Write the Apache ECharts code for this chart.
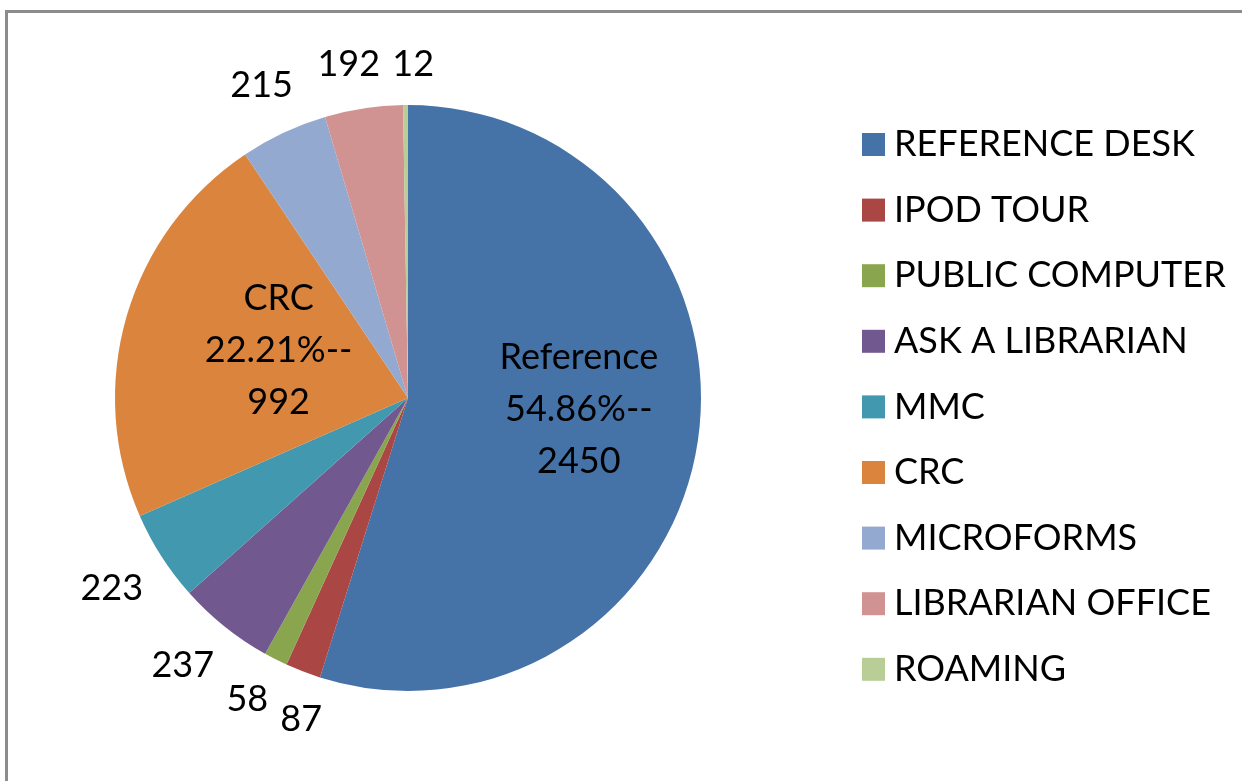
<!DOCTYPE html>
<html>
<head>
<meta charset="utf-8">
<script src="https://cdn.jsdelivr.net/npm/echarts@6/dist/echarts.min.js"></script>
<style>
  html, body { margin: 0; padding: 0; background: #fff; }
  #main { width: 1242px; height: 781px; }
</style>
</head>
<body>
<div id="main"></div>
<script>
// categories (legend order, clockwise from 12 o'clock)
const categories = [
  'REFERENCE DESK', 'IPOD TOUR', 'PUBLIC COMPUTER', 'ASK A LIBRARIAN', 'MMC',
  'CRC', 'MICROFORMS', 'LIBRARIAN OFFICE', 'ROAMING'
];
// visit counts
const counts = [2450, 87, 58, 237, 223, 992, 215, 192, 12];
// short names used in the two big slices' inner labels
const innerNames = ['Reference', '', '', '', '', 'CRC', '', '', ''];

const colors = [
  '#4572a7', '#aa4643', '#89a54e', '#71588f', '#4198af',
  '#db843d', '#93a9cf', '#d19392', '#b9cd96'
];

const font = 'Lato, "Noto Sans", sans-serif';
const fontSize = 36;

const chart = echarts.init(document.getElementById('main'));

// inner label placement: fraction of radius + small vertical nudge
const innerPos = { Reference: { k: 0.59, dy: -15 }, CRC: { k: 0.46, dy: -10 } };

const data = categories.map((name, i) => {
  const item = { name, value: counts[i] };
  if (innerNames[i]) {
    item.label = {
      position: 'inside',
      formatter: p => innerNames[i] + '\n' + p.percent.toFixed(2) + '%--\n' + p.value,
      lineHeight: 52
    };
  }
  return item;
});

// work out all label spots once: outside labels sit just clear of the rim,
// neighbours that collide get pushed apart around the circle
let spots = null;
function computeSpots() {
  const d = chart.getModel().getSeriesByIndex(0).getData();
  const ctx = document.createElement('canvas').getContext('2d');
  ctx.font = fontSize + 'px ' + font;
  const out = [];
  const res = [];
  for (let i = 0; i < counts.length; i++) {
    const lay = d.getItemLayout(i);
    const mid = (lay.startAngle + lay.endAngle) / 2;
    if (innerNames[i]) {
      const p = innerPos[innerNames[i]];
      res[i] = { x: lay.cx + Math.cos(mid) * lay.r * p.k, y: lay.cy + Math.sin(mid) * lay.r * p.k + p.dy };
    } else {
      out.push({ i, lay, ang: mid, w: ctx.measureText(String(counts[i])).width, h: fontSize * 0.9 });
    }
  }
  const place = it => {
    const dx = Math.cos(it.ang), dy = Math.sin(it.ang);
    const dist = it.lay.r + 24 + Math.abs(dx) * it.w / 2 + Math.abs(dy) * it.h / 2;
    it.x = it.lay.cx + dx * dist;
    it.y = it.lay.cy + dy * dist;
  };
  out.forEach(place);
  out.sort((a, b) => a.ang - b.ang);
  for (let n = 0; n < 400; n++) {
    let moved = false;
    for (let j = 0; j < out.length - 1; j++) {
      const a = out[j], b = out[j + 1];
      const ox = (a.w + b.w) / 2 + 12 - Math.abs(a.x - b.x);
      const oy = (a.h + b.h) / 2 + 6 - Math.abs(a.y - b.y);
      if (ox > 0 && oy > 0) {
        a.ang -= 0.002;
        b.ang += 0.002;
        place(a); place(b);
        moved = true;
      }
    }
    if (!moved) break;
  }
  out.forEach(it => { res[it.i] = { x: it.x, y: it.y }; });
  return res;
}

function placeLabel(params) {
  if (!spots) spots = computeSpots();
  const s = spots[params.dataIndex];
  return { x: s.x, y: s.y, align: 'center', verticalAlign: 'middle', hideOverlap: false };
}

chart.setOption({
  animation: false,
  color: colors,
  graphic: [{
    type: 'rect',
    shape: { x: 6.5, y: 11.5, width: 2000, height: 2000 },
    style: { fill: 'none', stroke: '#8c8c8c', lineWidth: 3 },
    silent: true
  }],
  legend: {
    orient: 'vertical',
    left: 857,
    top: 121,
    itemWidth: 23,
    itemHeight: 23,
    itemGap: 28.6,
    icon: 'rect',
    textStyle: { fontFamily: font, fontSize: fontSize, color: '#000', lineHeight: 37, padding: [0, 0, 0, 4] },
    data: categories
  },
  series: [{
    type: 'pie',
    center: [408, 398],
    radius: 293,
    startAngle: 90,
    clockwise: true,
    avoidLabelOverlap: false,
    itemStyle: { borderWidth: 0 },
    label: {
      show: true,
      position: 'outside',
      formatter: '{c}',
      fontFamily: font,
      fontSize: fontSize,
      color: '#000'
    },
    labelLine: { show: false, length: 12, length2: 0 },
    labelLayout: placeLabel,
    emphasis: { disabled: true },
    data
  }]
});
</script>
</body>
</html>
